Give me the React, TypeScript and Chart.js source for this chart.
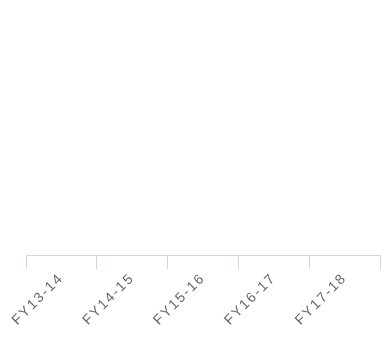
import React, { useEffect, useRef } from "react";
import { Chart, registerables } from "chart.js";

Chart.register(...registerables);

const categories: string[] = ["FY13-14", "FY14-15", "FY15-16", "FY16-17", "FY17-18"];
const seriesValues: (number | null)[] = [null, null, null, null, null];

const spacingPlugin = {
  id: "labelSpacing",
  beforeLayout(chart: any) {
    (chart.ctx as any).letterSpacing = "1.8px";
  },
  beforeDraw(chart: any) {
    (chart.ctx as any).letterSpacing = "1.8px";
  },
};

export default function App() {
  const ref = useRef<HTMLCanvasElement | null>(null);
  useEffect(() => {
    document.body.style.margin = "0";
    if (!ref.current) return;
    const chart = new Chart(ref.current, {
      type: "bar",
      data: {
        labels: categories,
        datasets: [{ label: "Series", data: seriesValues, backgroundColor: "#7cb5ec" }],
      },
      plugins: [spacingPlugin],
      options: {
        animation: false,
        responsive: true,
        maintainAspectRatio: false,
        layout: { padding: { left: 26, right: 11, top: 10, bottom: 0 } },
        plugins: { legend: { display: false }, tooltip: { enabled: false }, title: { display: false } },
        scales: {
          y: { display: false, min: 0, max: 10 },
          x: {
            offset: true,
            grid: {
              offset: true,
              drawOnChartArea: false,
              drawTicks: true,
              tickLength: 14,
              color: "#ccd6eb",
              lineWidth: 1,
            },
            border: { display: true, color: "#ccd6eb", width: 1 },
            ticks: {
              color: "#666666",
              font: { family: "'Liberation Sans', Arial, sans-serif", size: 14 },
              minRotation: 45,
              maxRotation: 45,
              autoSkip: false,
              padding: 1,
            },
            afterFit: (scale: any) => {
              scale.height = 88;
            },
          },
        },
      },
    });
    return () => chart.destroy();
  }, []);
  return (
    <div style={{ width: 391, height: 343, position: "relative" }}>
      <canvas ref={ref} />
    </div>
  );
}
